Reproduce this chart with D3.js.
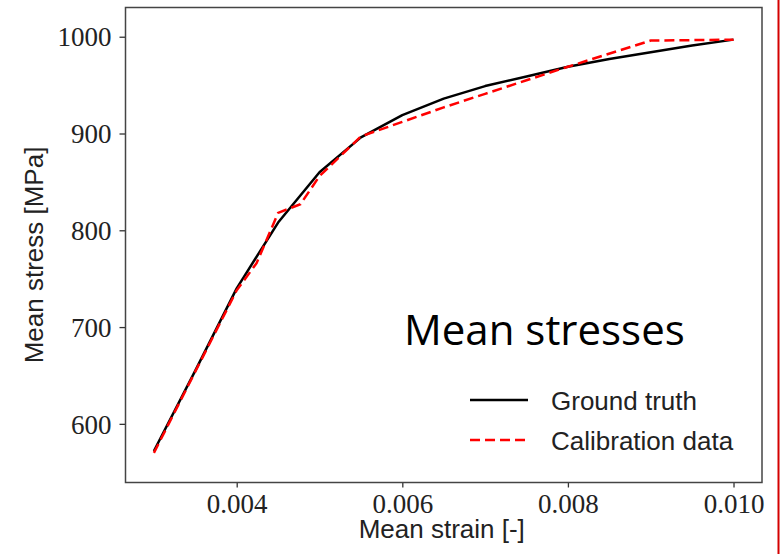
<!DOCTYPE html>
<html>
<head>
<meta charset="utf-8">
<script src="https://cdn.jsdelivr.net/npm/d3@7/dist/d3.min.js"></script>
<style>
  html, body { margin: 0; padding: 0; background: #fff; }
  svg { display: block; }
</style>
</head>
<body>
<script>
// ---- data ----
const truthStrain = [0.003, 0.0035, 0.004, 0.0045, 0.005, 0.0055, 0.006, 0.0065, 0.007, 0.0075, 0.008, 0.0085, 0.009, 0.0095, 0.010];
const truthStress = [572, 655, 740, 808, 860, 896, 919, 936, 949, 959, 969, 977, 984, 991, 997];
const calibStrain = [0.003, 0.004, 0.00424, 0.0045, 0.00477, 0.005, 0.0055, 0.006, 0.0065, 0.007, 0.0075, 0.008, 0.009, 0.010];
const calibStress = [570, 738, 766, 818, 827, 856, 897, 912, 927, 941, 955, 969, 996, 997];
const xTicks = [0.004, 0.006, 0.008, 0.010];
const yTicks = [600, 700, 800, 900, 1000];
const seriesNames = ["Ground truth", "Calibration data"];
const xLabel = "Mean strain [-]";
const yLabel = "Mean stress [MPa]";
const overlayText = "Mean stresses";

const W = 782, H = 554;
const L = 125.5, R = 762, T = 7.5, B = 482.5;

const svg = d3.select("body").append("svg").attr("width", W).attr("height", H);

const x = d3.scaleLinear().domain([0.002657, 0.010344]).range([L, R]);
const y = d3.scaleLinear().domain([539.4, 1030.2]).range([B, T]);

// axes
const xAxis = d3.axisBottom(x).tickValues(xTicks).tickFormat(d3.format(".3f")).tickSizeOuter(0).tickSize(5).tickPadding(7);
const yAxis = d3.axisLeft(y).tickValues(yTicks).tickFormat(d3.format("d")).tickSizeOuter(0).tickSize(6).tickPadding(8);

const gx = svg.append("g").attr("transform", `translate(0,${B})`).call(xAxis);
const gy = svg.append("g").attr("transform", `translate(${L},0)`).call(yAxis);
[gx, gy].forEach(g => {
  g.select(".domain").remove();
  g.selectAll(".tick line").attr("stroke", "#333").attr("stroke-width", 1.3);
  g.selectAll(".tick text")
    .attr("fill", "#222")
    .style("font-family", "'Liberation Serif', 'DejaVu Serif', serif")
    .style("font-size", "27px");
});
gy.selectAll(".tick text").attr("dy", "0.34em");
gx.selectAll(".tick text").attr("dy", "0.68em");

// frame
svg.append("rect")
  .attr("x", L).attr("y", T).attr("width", R - L).attr("height", B - T)
  .attr("fill", "none").attr("stroke", "#444").attr("stroke-width", 1.5);

// lines
const lineGen = d3.line().x(d => x(d[0])).y(d => y(d[1]));
const truth = truthStrain.map((s, i) => [s, truthStress[i]]);
const calib = calibStrain.map((s, i) => [s, calibStress[i]]);

svg.append("path").datum(truth).attr("d", lineGen)
  .attr("fill", "none").attr("stroke", "#000").attr("stroke-width", 2.5)
  .attr("stroke-linejoin", "round");
svg.append("path").datum(calib).attr("d", lineGen)
  .attr("fill", "none").attr("stroke", "#ff0000").attr("stroke-width", 2.5)
  .attr("stroke-dasharray", "10,5");

// axis labels
svg.append("text")
  .attr("x", (L + R) / 2 - 2).attr("y", 538)
  .attr("text-anchor", "middle")
  .style("font-family", "'Liberation Sans', Arial, sans-serif")
  .style("font-size", "26px").attr("fill", "#222")
  .text(xLabel);
svg.append("text")
  .attr("transform", `translate(43,${(T + B) / 2 + 10}) rotate(-90)`)
  .attr("text-anchor", "middle")
  .style("font-family", "'Liberation Sans', Arial, sans-serif")
  .style("font-size", "26px").attr("fill", "#222")
  .text(yLabel);

// legend
const legend = svg.append("g");
const legY = [400, 440];
legend.append("line").attr("x1", 470).attr("x2", 528).attr("y1", legY[0]).attr("y2", legY[0])
  .attr("stroke", "#000").attr("stroke-width", 2.5);
legend.append("line").attr("x1", 470).attr("x2", 528).attr("y1", legY[1]).attr("y2", legY[1])
  .attr("stroke", "#ff0000").attr("stroke-width", 2.5).attr("stroke-dasharray", "10,5");
seriesNames.forEach((n, i) => {
  legend.append("text").attr("x", 551).attr("y", legY[i] + 10)
    .style("font-family", "'Liberation Sans', Arial, sans-serif")
    .style("font-size", "26px").attr("fill", "#222")
    .text(n);
});

// overlay text
svg.append("text").attr("x", 404).attr("y", 345)
  .style("font-family", "'Open Sans', sans-serif")
  .style("font-size", "42px").attr("fill", "#000")
  .text(overlayText);

// red border at right edge
svg.append("line").attr("x1", 778.5).attr("x2", 778.5).attr("y1", 0).attr("y2", H)
  .attr("stroke", "#d40000").attr("stroke-width", 2);
</script>
</body>
</html>
